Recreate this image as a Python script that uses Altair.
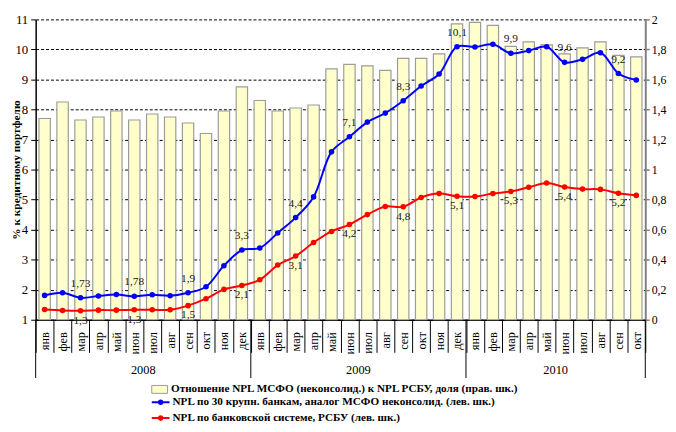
import altair as alt
import pandas as pd

# ---------------- data ----------------
month_names = ["янв", "фев", "мар", "апр", "май", "июн", "июл", "авг", "сен", "окт", "ноя", "дек"]
years = ["2008", "2009", "2010"]
months_per_year = [12, 12, 10]

# ratio NPL IFRS / NPL RAS (right axis)
ratio = [1.34, 1.45, 1.33, 1.35, 1.39, 1.33, 1.37, 1.35, 1.31, 1.24, 1.39, 1.55,
         1.46, 1.39, 1.41, 1.43, 1.67, 1.70, 1.69, 1.66, 1.74, 1.74, 1.77, 1.97,
         1.98, 1.96, 1.82, 1.85, 1.83, 1.77, 1.81, 1.85, 1.76, 1.75]
# NPL by 30 largest banks (left axis)
blue = [1.81, 1.90, 1.73, 1.79, 1.84, 1.78, 1.83, 1.80, 1.90, 2.10, 2.80, 3.32,
        3.39, 3.89, 4.40, 5.09, 6.59, 7.09, 7.58, 7.88, 8.29, 8.78, 9.18, 10.09,
        10.08, 10.17, 9.87, 9.96, 10.09, 9.57, 9.67, 9.89, 9.20, 8.98]
# NPL banking system RAS (left axis)
red = [1.34, 1.31, 1.30, 1.32, 1.32, 1.33, 1.33, 1.33, 1.47, 1.70, 2.01, 2.14,
       2.33, 2.82, 3.12, 3.57, 3.94, 4.17, 4.50, 4.77, 4.76, 5.07, 5.20, 5.11,
       5.10, 5.20, 5.27, 5.41, 5.55, 5.42, 5.35, 5.34, 5.21, 5.14]
blue_labels = ["", "", "1,73", "", "", "1,78", "", "", "1,9", "", "", "3,3",
               "", "", "4,4", "", "", "7,1", "", "", "8,3", "", "", "10,1",
               "", "", "9,9", "", "", "9,6", "", "", "9,2", ""]
red_labels = ["", "", "1,3", "", "", "1,3", "", "", "1,5", "", "", "2,1",
              "", "", "3,1", "", "", "4,2", "", "", "4,8", "", "", "5,1",
              "", "", "5,3", "", "", "5,4", "", "", "5,2", ""]

bar_name = "Отношение NPL МСФО (неконсолид.)  к NPL РСБУ, доля (прав. шк.)"
blue_name = "NPL по 30 крупн. банкам, аналог МСФО неконсолид. (лев. шк.)"
red_name = "NPL по банковской системе, РСБУ (лев. шк.)"

keys = []
year_first = []
year_mid = []
for y, n in zip(years, months_per_year):
    ks = [f"{month_names[i]} {y}" for i in range(n)]
    year_first.append(ks[0])
    year_mid.append(ks[n // 2])
    keys += ks

df = pd.DataFrame({"m": keys, "ratio": ratio, "blue": blue, "red": red,
                   "bl": blue_labels, "rl": red_labels})
years_df = pd.DataFrame({"m": year_mid, "yr": years})
sep_df = pd.DataFrame({"m": year_first})
end_df = pd.DataFrame({"m": [keys[-1]]})

# ---------------- layout ----------------
W, H = 617, 304
FONT = "Liberation Serif"
LEG_FS = 11.3

xsc = alt.Scale(domain=keys, paddingInner=0, paddingOuter=0)

x_axis = alt.Axis(title=None,
                  labelExpr="isValid(datum.value) ? split(datum.value, ' ')[0] : ''",
                  labelAngle=270,
                  tickBand="extent", tickSize=33, tickColor="black", tickWidth=1,
                  domainColor="black", domainWidth=1.5, labelPadding=-21,
                  labelFont=FONT, labelFontSize=12.5, labelColor="black", grid=False)
X = alt.X("m:N", scale=xsc, axis=x_axis)

bars = alt.Chart(df).transform_calculate(s=f"'{bar_name}'").mark_bar(
    size=11.5, stroke="#9c9c9c", strokeWidth=1.2
).encode(
    x=X,
    y=alt.Y("ratio:Q", scale=alt.Scale(domain=[0, 2], nice=False, zero=True),
            axis=alt.Axis(orient="right", title=None, values=[0, 0.2, 0.4, 0.6, 0.8, 1, 1.2, 1.4, 1.6, 1.8, 2],
                          labelExpr="replace(format(datum.value, '~g'), '.', ',')",
                          grid=False, domainColor="#808080", domainWidth=2,
                          tickColor="#808080", tickSize=4, tickWidth=1.5, labelPadding=2,
                          labelFont=FONT, labelFontSize=12, labelColor="black")),
    color=alt.Color("s:N", scale=alt.Scale(domain=[bar_name], range=["#FFFFCC"]),
                    legend=alt.Legend(orient="none", legendX=117, legendY=366, title=None,
                                      direction="vertical", symbolType="M-1,-0.5H1V0.5H-1Z",
                                      symbolSize=256, symbolStrokeColor="#999999",
                                      symbolStrokeWidth=1, labelFont=FONT, labelFontWeight="bold",
                                      labelFontSize=LEG_FS, labelColor="black", labelLimit=1000,
                                      labelOffset=3, padding=0)),
)

line_scale = alt.Scale(domain=[blue_name, red_name], range=["#0000FF", "#FF0000"])
left_axis = alt.Axis(orient="left", values=list(range(1, 12)), title="% к кредитному портфелю",
                     grid=True, gridColor="black", gridDash=[3, 2], gridWidth=1,
                     domainColor="black", domainWidth=1.5, tickColor="black", tickSize=5,
                     labelPadding=3, labelFont=FONT, labelFontSize=13, labelColor="black",
                     titleFont=FONT, titleFontSize=11.5, titleFontWeight="bold",
                     titleColor="black", titlePadding=-7)
ysc = alt.Scale(domain=[1, 11], nice=False, zero=False)

legend_path = ("M-1,-0.11H-0.25V0.11H-1Z M0.25,-0.11H1V0.11H0.25Z "
               "M-0.32,0A0.32,0.32 0 1,1 0.32,0A0.32,0.32 0 1,1 -0.32,0Z")
pt_legend = alt.Legend(orient="none", legendX=116.5, legendY=377.5, title=None,
                       direction="vertical", symbolType=legend_path, symbolSize=324,
                       rowPadding=-5, labelFont=FONT, labelFontWeight="bold",
                       labelFontSize=LEG_FS, labelColor="black", labelLimit=1000,
                       labelOffset=2, padding=0)


def series(field, name, color, lbl_field, dy):
    base = alt.Chart(df).transform_calculate(s=f"'{name}'")
    Y = alt.Y(f"{field}:Q", scale=ysc, axis=left_axis)
    line = base.mark_line(interpolate="catmull-rom", strokeWidth=2, color=color).encode(x=X, y=Y)
    pts = base.mark_circle(size=32, opacity=1).encode(
        x=X, y=Y, fill=alt.Fill("s:N", scale=line_scale, legend=pt_legend))
    txt = alt.Chart(df).transform_filter(f"datum.{lbl_field} != ''").mark_text(
        dy=dy, font=FONT, fontSize=11.5, color="#1a1a1a"
    ).encode(x=X, y=Y, text=f"{lbl_field}:N")
    return [line, pts, txt]


seps = alt.Chart(sep_df).mark_rule(color="black", strokeWidth=1).encode(
    x=alt.X("m:N", scale=xsc, axis=x_axis, bandPosition=0),
    y=alt.value(H), y2=alt.value(H + 59))
sep_end = alt.Chart(end_df).mark_rule(color="black", strokeWidth=1).encode(
    x=alt.X("m:N", scale=xsc, axis=x_axis, bandPosition=1),
    y=alt.value(H), y2=alt.value(H + 59))
year_txt = alt.Chart(years_df).mark_text(font=FONT, fontSize=12.5, color="black", baseline="middle").encode(
    x=alt.X("m:N", scale=xsc, axis=x_axis, bandPosition=0),
    y=alt.value(H + 51), text="yr:N")

inner = alt.layer(*series("blue", blue_name, "#0000FF", "bl", -14),
                  *series("red", red_name, "#FF0000", "rl", 10),
                  seps, sep_end, year_txt)

chart = alt.layer(bars, inner).resolve_scale(y="independent").properties(
    width=W, height=H,
    padding={"left": 28, "top": 9, "right": 23, "bottom": 103},
    autosize=alt.AutoSizeParams(type="none"),
    background="white",
).configure_view(stroke=None)

chart.save("out.html", embed_options={"renderer": "svg", "actions": False})
